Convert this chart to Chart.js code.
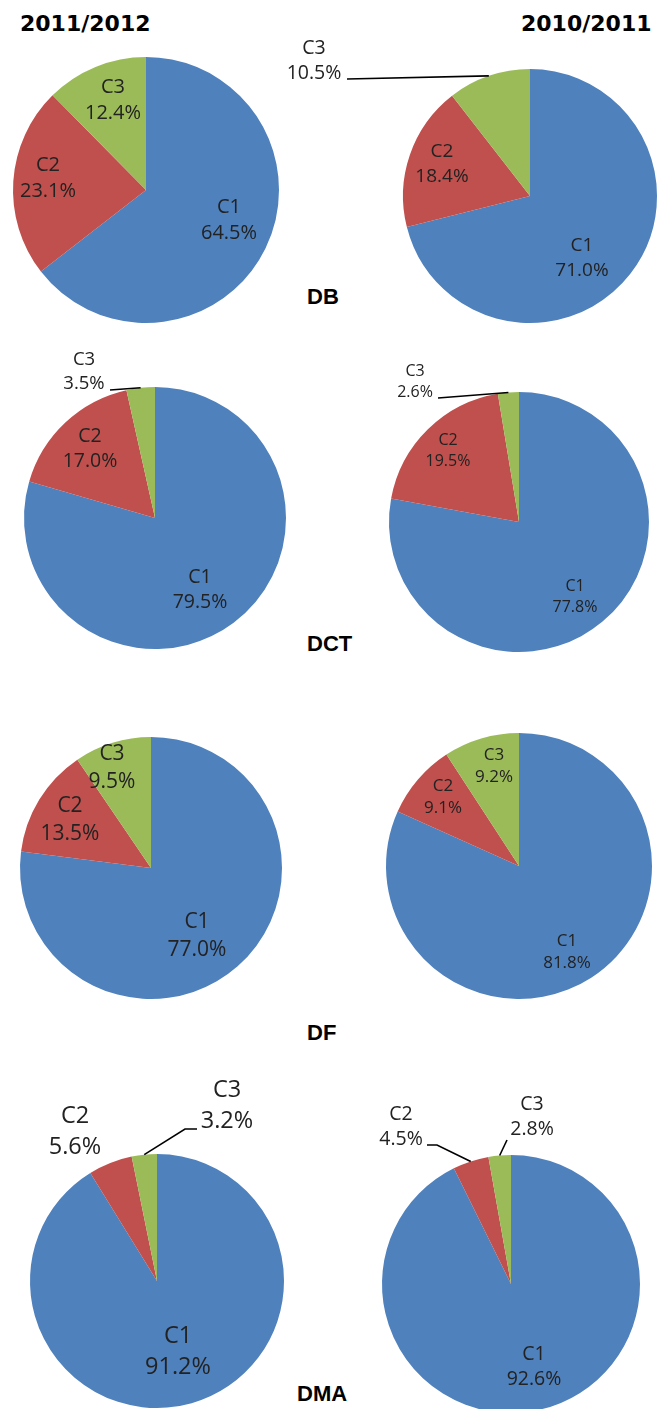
<!DOCTYPE html>
<html>
<head>
<meta charset="utf-8">
<script src="https://cdn.jsdelivr.net/npm/chart.js@4/dist/chart.umd.min.js"></script>
<style>
  html, body { margin: 0; padding: 0; background: #fff; overflow: hidden; }
  #page { position: relative; width: 659px; height: 1409px; }
  canvas { position: absolute; left: 0; top: 0; }
  .year { position: absolute; font: bold 22px "DejaVu Sans"; line-height: 1; color: #000; }
  .group { position: absolute; font: bold 22px "Liberation Sans"; line-height: 1; color: #000; }
</style>
</head>
<body>
<div id="page">
  <div class="year" style="left:20px; top:13px">2011/2012</div>
  <div class="year" style="left:521px; top:13px">2010/2011</div>
  <div class="group" style="left:307px; top:286px">DB</div>
  <div class="group" style="left:307px; top:633px">DCT</div>
  <div class="group" style="left:307px; top:1022px">DF</div>
  <div class="group" style="left:297px; top:1383px">DMA</div>
</div>
<script>
const categories = ['C1', 'C2', 'C3']
const colors = ['#4F81BD', '#C0504D', '#9BBB59']

const db2012 = [64.5, 23.1, 12.4]
const db2011 = [71.0, 18.4, 10.5]
const dct2012 = [79.5, 17.0, 3.5]
const dct2011 = [77.8, 19.5, 2.6]
const df2012 = [77.0, 13.5, 9.5]
const df2011 = [81.8, 9.1, 9.2]
const dma2012 = [91.2, 5.6, 3.2]
const dma2011 = [92.6, 4.5, 2.8]

const W = 659, H = 1460

// where each pie sits and where its labels go (offsets from the pie centre)
const pies = [
  { data: db2012, cx: 146, cy: 190, r: 133, size: 20,
    spots: [{dx: 83, dy: 30}, {dx: -98, dy: -12}, {dx: -33, dy: -90}] },
  { data: db2011, cx: 530, cy: 196, r: 127, size: 19,
    spots: [{dx: 52, dy: 62}, {dx: -88, dy: -32}, {dx: -216, dy: -135, size: 19.5, leader: [[-183, -117]]}] },
  { data: dct2012, cx: 155, cy: 518, r: 131, size: 19.5,
    spots: [{dx: 45, dy: 72}, {dx: -65, dy: -69}, {dx: -71, dy: -146, size: 18.5, leader: [[-45, -128]]}] },
  { data: dct2011, cx: 519, cy: 522, r: 130, size: 16,
    spots: [{dx: 56, dy: 75}, {dx: -71, dy: -71}, {dx: -104, dy: -140, leader: [[-81, -124]]}] },
  { data: df2012, cx: 151, cy: 868, r: 131, size: 21,
    spots: [{dx: 46, dy: 68}, {dx: -81, dy: -48}, {dx: -39, dy: -100}] },
  { data: df2011, cx: 519, cy: 866, r: 133, size: 17,
    spots: [{dx: 48, dy: 86}, {dx: -76, dy: -69}, {dx: -25, dy: -100}] },
  { data: dma2012, cx: 157, cy: 1281, r: 127, size: 23.5,
    spots: [{dx: 21, dy: 71}, {dx: -82, dy: -149}, {dx: 70, dy: -175, leader: [[28, -152], [40, -152]]}] },
  { data: dma2011, cx: 511, cy: 1284, r: 129, size: 19.5,
    spots: [{dx: 23, dy: 83}, {dx: -110, dy: -157, leader: [[-74, -139], [-84, -139]]}, {dx: 21, dy: -167, leader: [[-4, -144]]}] }
]

const sliceLabels = {
  id: 'sliceLabels',
  afterDatasetsDraw(chart, args, opts) {
    const ctx = chart.ctx
    const meta = chart.getDatasetMeta(0)
    const values = chart.data.datasets[0].data
    ctx.save()
    ctx.fillStyle = '#222'
    ctx.strokeStyle = '#000'
    ctx.lineWidth = 1.6
    ctx.textAlign = 'center'
    ctx.textBaseline = 'middle'
    meta.data.forEach((arc, i) => {
      const spot = opts.spots[i]
      const size = spot.size || opts.size
      const lh = size * 1.3
      const x = arc.x + spot.dx, y = arc.y + spot.dy
      ctx.font = size + 'px "Open Sans"'
      ctx.fillText(chart.data.labels[i], x, y - lh / 2)
      ctx.fillText(values[i].toFixed(1) + '%', x, y + lh / 2)
      if (spot.leader) {
        const mid = (arc.startAngle + arc.endAngle) / 2
        ctx.beginPath()
        ctx.moveTo(arc.x + Math.cos(mid) * arc.outerRadius, arc.y + Math.sin(mid) * arc.outerRadius)
        spot.leader.forEach(p => ctx.lineTo(arc.x + p[0], arc.y + p[1]))
        ctx.stroke()
      }
    })
    ctx.restore()
  }
}

const page = document.getElementById('page')
pies.forEach(pie => {
  const canvas = document.createElement('canvas')
  canvas.width = W
  canvas.height = H
  page.appendChild(canvas)
  new Chart(canvas, {
    type: 'pie',
    data: {
      labels: categories,
      datasets: [{
        data: pie.data,
        backgroundColor: colors,
        borderWidth: 0,
        hoverOffset: 0
      }]
    },
    options: {
      responsive: false,
      animation: false,
      events: [],
      layout: {
        padding: {
          left: pie.cx - pie.r,
          top: pie.cy - pie.r,
          right: W - pie.cx - pie.r,
          bottom: H - pie.cy - pie.r
        }
      },
      plugins: {
        legend: { display: false },
        tooltip: { enabled: false },
        sliceLabels: { size: pie.size, spots: pie.spots }
      }
    },
    plugins: [sliceLabels]
  })
})
</script>
</body>
</html>
